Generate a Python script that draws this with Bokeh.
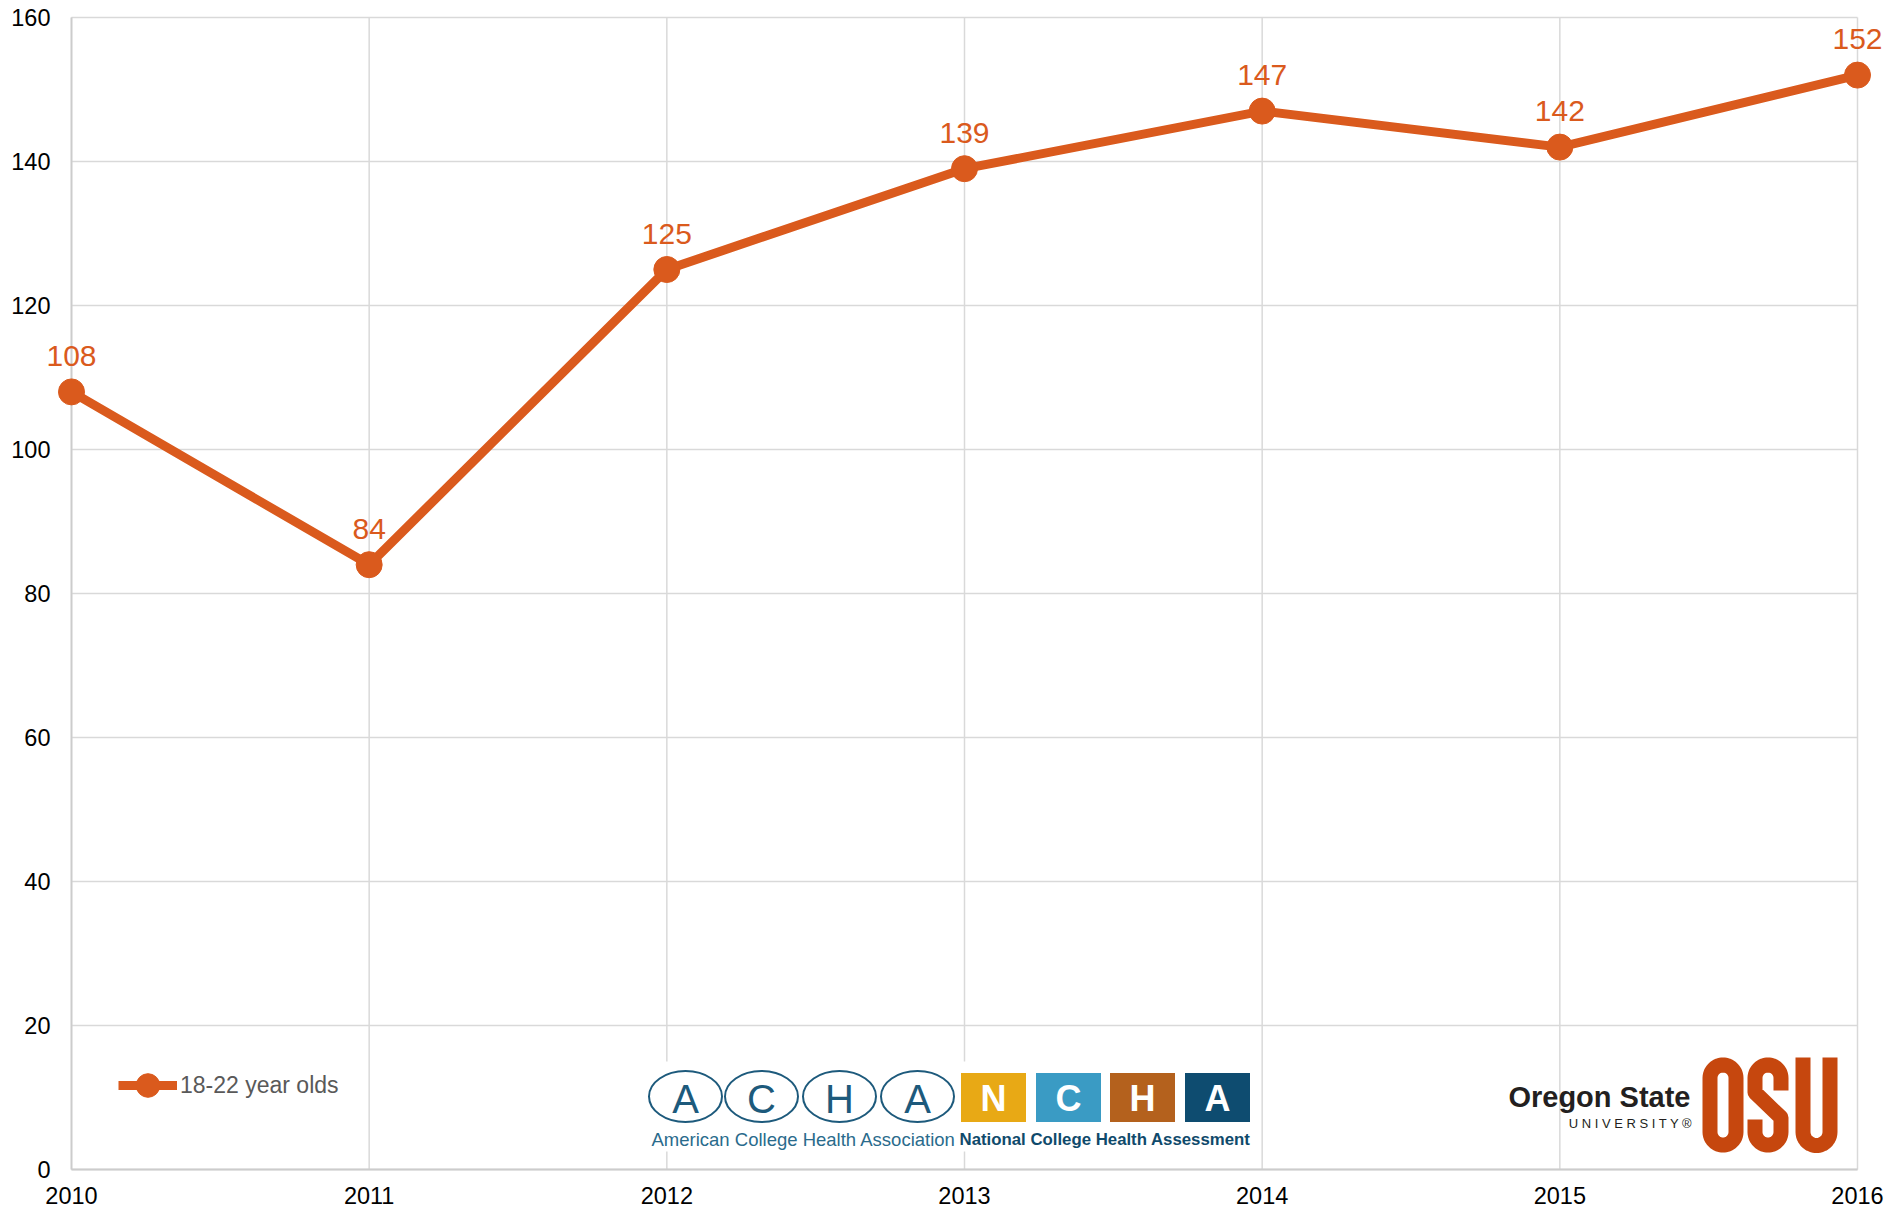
import numpy as np
from bokeh.plotting import figure
from bokeh.models import ColumnDataSource, LabelSet
from bokeh.core.properties import value
from bokeh.embed import file_html
from bokeh.resources import INLINE

# ---------------- data ----------------
years = [2010, 2011, 2012, 2013, 2014, 2015, 2016]
counts = [108, 84, 125, 139, 147, 142, 152]
count_labels = [str(v) for v in counts]
y_ticks = [0, 20, 40, 60, 80, 100, 120, 140, 160]
y_tick_labels = [str(v) for v in y_ticks]
x_ticks = years
x_tick_labels = [str(v) for v in years]
series_name = "18-22 year olds"

# ---------------- styles / layout ----------------
ORANGE = "#DA5A1D"
OSU_ORANGE = "#C6470E"
NAVY = "#1D5A7C"
GRID = "#D9D9D9"
AXIS = "#CCCCCC"
FONT = "Liberation Sans"

W, H = 1887, 1209
FL, FT, FR, FB = 71, 17, 1857, 1169   # pixel edges of the plotting area
SX = (x_ticks[-1] - x_ticks[0]) / (FR - FL)
SY = (y_ticks[-1] - y_ticks[0]) / (FB - FT)
x_range = (x_ticks[0] - FL * SX, x_ticks[-1] + (W - FR) * SX)
y_range = (y_ticks[0] - (H - FB) * SY, y_ticks[-1] + FT * SY)

p = figure(width=W, height=H, min_border=0,
           x_range=x_range, y_range=y_range,
           x_axis_location=None, y_axis_location=None,
           output_backend="svg", toolbar_location=None)
p.outline_line_color = None
p.grid.visible = False
p.background_fill_color = "white"
p.border_fill_color = "white"

x0, x1 = x_ticks[0], x_ticks[-1]
y0, y1 = y_ticks[0], y_ticks[-1]

# grid lines
p.segment(x0=[x0] * len(y_ticks), x1=[x1] * len(y_ticks), y0=y_ticks, y1=y_ticks,
          line_color=GRID, line_width=1.5)
p.segment(x0=x_ticks, x1=x_ticks, y0=[y0] * len(x_ticks), y1=[y1] * len(x_ticks),
          line_color=GRID, line_width=1.5)
# axis lines
p.segment(x0=[x0, x0], x1=[x0, x1], y0=[y0, y0], y1=[y1, y0],
          line_color=AXIS, line_width=1.8)
# tick labels
p.text(x=[x0] * len(y_ticks), y=y_ticks, text=y_tick_labels,
       text_align="right", text_baseline="middle", x_offset=-21,
       text_font=value(FONT), text_font_size="23.5px", text_color="#000000")
p.text(x=x_ticks, y=[y0] * len(x_ticks), text=x_tick_labels,
       text_align="center", text_baseline="middle", y_offset=26,
       text_font=value(FONT), text_font_size="23.5px", text_color="#000000")


# pixel helpers for the decorative logos only
def X(px):
    return x_range[0] + px * SX


def Y(py):
    return y_range[1] - py * SY


def txt(px, py, s, size, color, align="center", bold=False):
    p.text(x=[X(v) for v in px], y=[Y(py)] * len(px), text=s,
           text_align=align, text_baseline="middle",
           text_font=value(FONT), text_font_style="bold" if bold else "normal",
           text_font_size=size, text_color=color)


# ---------------- ACHA / NCHA logo ----------------
p.rect(x=[X(947)], y=[Y(1106)], width=620, height=90,
       width_units="screen", height_units="screen",
       fill_color="white", line_color=None)
ell_px = [685, 761, 839, 917]
p.ellipse(x=[X(v) for v in ell_px], y=[Y(1096)] * 4, width=73, height=51,
          width_units="screen", height_units="screen",
          fill_color=None, line_color=NAVY, line_width=2)
txt(ell_px, 1098, ["A", "C", "H", "A"], "40px", NAVY)
sq_px = [993, 1068, 1142, 1217]
sq_col = ["#E8A915", "#3A9BC4", "#B4611D", "#0E4C70"]
p.rect(x=[X(v) for v in sq_px], y=[Y(1097)] * 4, width=65, height=49,
       width_units="screen", height_units="screen",
       fill_color=sq_col, line_color=None)
txt(sq_px, 1098, ["N", "C", "H", "A"], "36px", "white", bold=True)
txt([651], 1139, ["American College Health Association"], "18.5px", "#2A6B8C",
    align="left")
txt([1250], 1139, ["National College Health Assessment"], "16.8px", "#0F4A6B",
    align="right", bold=True)

# ---------------- Oregon State logo ----------------
txt([1690], 1096, ["Oregon State"], "29px", "#231F20", align="right", bold=True)
txt([1692], 1123, ["U N I V E R S I T Y ®"], "13px", "#231F20", align="right")


def arc(cx, cy, r, t0, t1, n=24):
    t = np.linspace(t0, t1, n)
    return list(cx + r * np.cos(t)), list(cy + r * np.sin(t))


def stroke(pts_x, pts_y):
    p.line(x=[X(v) for v in pts_x], y=[Y(v) for v in pts_y],
           line_color=OSU_ORANGE, line_width=15,
           line_join="round", line_cap="butt")


# O
ax1, ay1 = arc(1722.5, 1131.5, 13, np.pi, 0)
ax2, ay2 = arc(1722.5, 1077.5, 13, 0, -np.pi)
stroke([1709.5] + ax1 + ax2 + [1709.5], [1077.5] + ay1 + ay2 + [1131.5])
# S
sx1, sy1 = arc(1767.5, 1077.5, 13, 0, -np.pi)
sx2, sy2 = arc(1767.5, 1131.5, 13, 0, np.pi)
stroke([1780.5] + sx1 + [1754.5, 1780.5] + sx2 + [1754.5],
       [1090] + sy1 + [1092, 1117] + sy2 + [1119])
# U
ux, uy = arc(1816, 1131.5, 13.5, np.pi, 0)
stroke([1802.5] + ux + [1829.5], [1057] + uy + [1057])

# ---------------- series ----------------
src = ColumnDataSource(dict(x=years, y=counts, lab=count_labels))
p.line(x="x", y="y", source=src, line_color=ORANGE, line_width=9,
       line_join="round", legend_label=series_name)
p.scatter(x="x", y="y", source=src, marker="circle", size=26,
          fill_color=ORANGE, line_color=ORANGE, legend_label=series_name)
p.add_layout(LabelSet(x="x", y="y", text="lab", source=src,
                      text_align="center", text_baseline="middle",
                      y_offset=36, text_font=value(FONT),
                      text_font_size="30px", text_color=ORANGE))

leg = p.legend[0]
leg.location = (118, H - 1116)
leg.padding = 0
leg.margin = 0
leg.spacing = 0
leg.border_line_color = None
leg.background_fill_alpha = 0
leg.glyph_width = 59
leg.glyph_height = 62
leg.label_height = 62
leg.label_standoff = 3
leg.label_text_font = FONT
leg.label_text_font_size = "23px"
leg.label_text_color = "#595959"

open("out.html", "w").write(file_html(p, INLINE))
